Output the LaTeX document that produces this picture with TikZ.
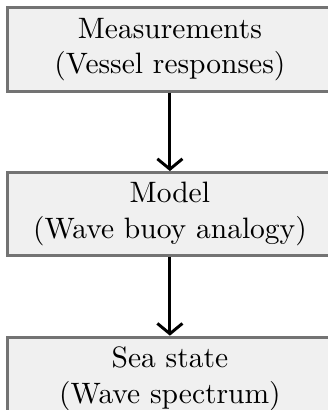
\documentclass[tikz,border=0pt]{standalone}
\usepackage{tikz}
\usetikzlibrary{positioning,arrows.meta}

\tikzset{
    stage/.style={draw=black!55, line width=1pt, fill=black!6, align=center,
        minimum width=109.8pt, minimum height=28.2pt, inner sep=2pt},
    flow/.style={line width=1pt, -{Straight Barb[length=3.5pt,width=8.5pt]}}
}

\begin{document}
\begin{tikzpicture}
    \useasboundingbox (0pt,0pt) rectangle (111.2pt,-139pt);

    % Stages
    \node[stage] (meas) at (57.6pt,-16.8pt) {Measurements\\(Vessel responses)};
    \node[stage, below=26.6pt of meas] (model) {Model\\(Wave buoy analogy)};
    \node[stage, below=26.6pt of model] (sea) {Sea state\\(Wave spectrum)};

    % Arrows
    \draw[flow] (meas) -- (model);
    \draw[flow] (model) -- (sea);

\end{tikzpicture}
\end{document}
